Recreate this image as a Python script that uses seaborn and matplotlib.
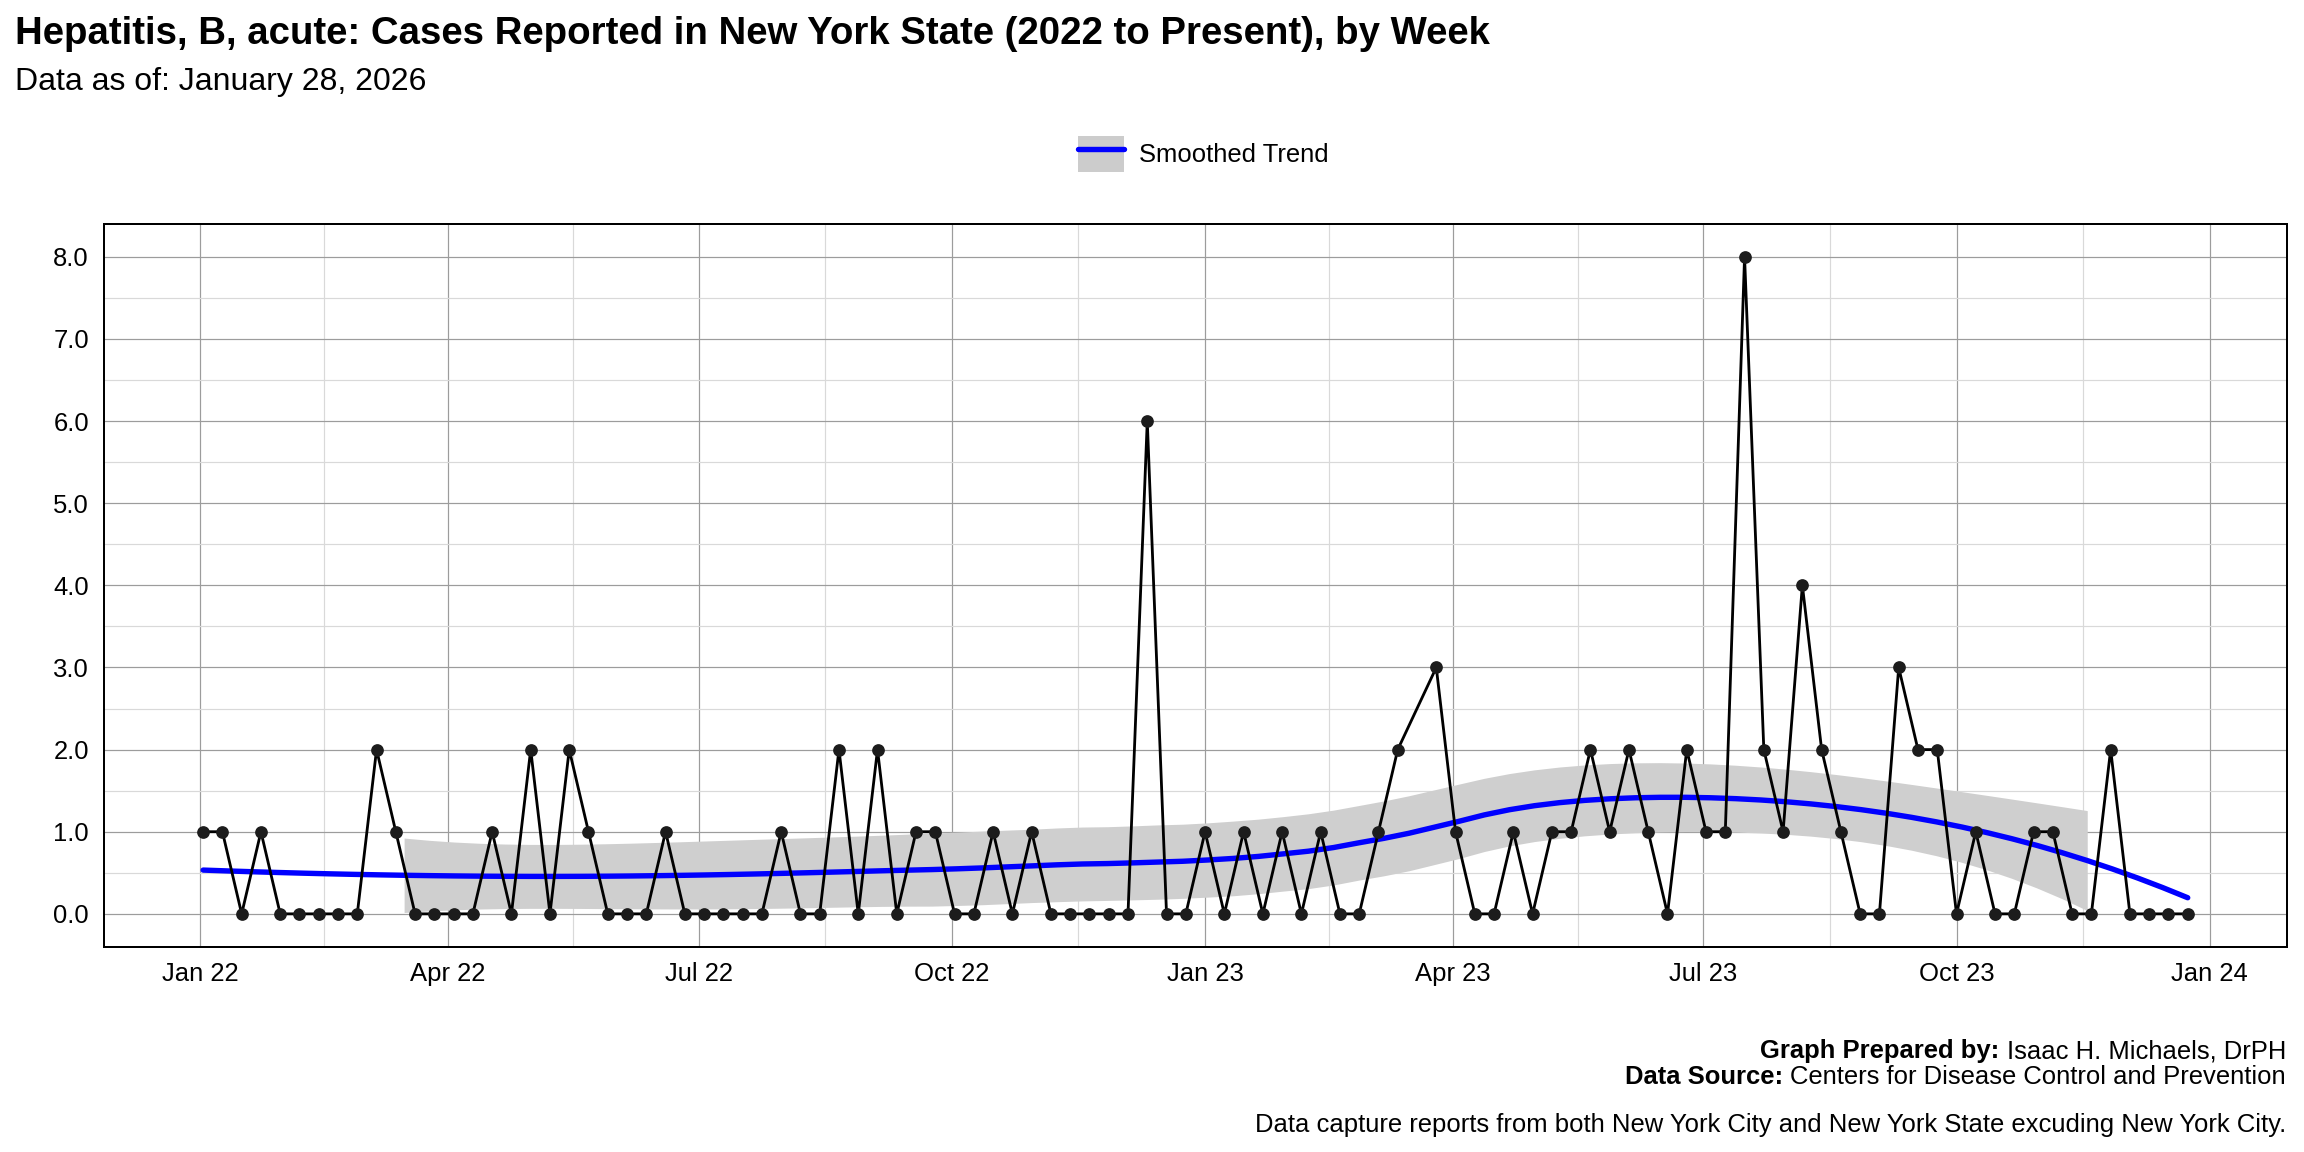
import numpy as np
import pandas as pd
import matplotlib
matplotlib.use("Agg")
import matplotlib.pyplot as plt
import matplotlib.dates as mdates
from matplotlib.patches import Patch
from matplotlib.lines import Line2D
import seaborn as sns

# weekly counts, first week starting 2022-01-02 (one week missing in March 2023)
first_week = "2022-01-02"
cases = [1, 1, 0, 1, 0, 0, 0, 0, 0, 2,
         1, 0, 0, 0, 0, 1, 0, 2, 0, 2,
         1, 0, 0, 0, 1, 0, 0, 0, 0, 0,
         1, 0, 0, 2, 0, 2, 0, 1, 1, 0,
         0, 1, 0, 1, 0, 0, 0, 0, 0, 6,
         0, 0, 1, 0, 1, 0, 1, 0, 1, 0,
         0, 1, 2, None, 3, 1, 0, 0, 1, 0,
         1, 1, 2, 1, 2, 1, 0, 2, 1, 1,
         8, 2, 1, 4, 2, 1, 0, 0, 3, 2,
         2, 0, 1, 0, 0, 1, 1, 0, 0, 2,
         0, 0, 0, 0]

title = "Hepatitis, B, acute: Cases Reported in New York State (2022 to Present), by Week"
subtitle = "Data as of: January 28, 2026"
caption_bold = ["Graph Prepared by: ", "Data Source: "]
caption_plain = ["Isaac H. Michaels, DrPH", "Centers for Disease Control and Prevention"]
caption_note = "Data capture reports from both New York City and New York State excuding New York City."

df = pd.DataFrame({"week": pd.date_range(first_week, periods=len(cases), freq="7D"),
                   "cases": cases}).dropna()
df["cases"] = df["cases"].astype(float)


# loess (span 0.75, degree 2) with 95% band, like geom_smooth
def loess(x, y, x_eval, span=0.75):
    n = len(x)
    q = int(np.floor(n * span))

    def rows(pts):
        L = np.zeros((len(pts), n))
        for i, x0 in enumerate(pts):
            d = np.abs(x - x0)
            h = np.sort(d)[q - 1]
            w = np.clip(1 - (d / h) ** 3, 0, None) ** 3
            X = np.vander(x - x0, 3, increasing=True)
            XtW = X.T * w
            L[i] = np.linalg.solve(XtW @ X, XtW)[0]
        return L

    Ld = rows(x)
    M = np.eye(n) - Ld
    M = M.T @ M
    d1 = np.trace(M)
    d2 = np.trace(M @ M)
    sigma = np.sqrt(np.sum((y - Ld @ y) ** 2) / d1)
    dof = d1 ** 2 / d2
    z = 1.959964
    t = z + (z ** 3 + z) / (4 * dof) + (5 * z ** 5 + 16 * z ** 3 + 3 * z) / (96 * dof ** 2)
    Le = rows(x_eval)
    fit = Le @ y
    se = sigma * np.sqrt(np.sum(Le ** 2, axis=1))
    return fit, fit - t * se, fit + t * se


x_num = mdates.date2num(df["week"])
x_grid = np.linspace(x_num.min(), x_num.max(), 80)
fit, lo, hi = loess(x_num, df["cases"].values, x_grid)
smooth = pd.DataFrame({"week": mdates.num2date(x_grid), "fit": fit, "lo": lo, "hi": hi})
smooth["week"] = smooth["week"].dt.tz_localize(None)

sns.set_style("white")
plt.rcParams["font.family"] = ["Liberation Sans", "DejaVu Sans"]
plt.rcParams["text.color"] = "black"

fig = plt.figure(figsize=(16, 8), dpi=144)
ax = fig.add_axes([0.0451, 0.1782, 0.9475, 0.6274])

# ribbon only where it stays inside the y limits
inside = (smooth["lo"] >= 0) & (smooth["hi"] <= 8)
ax.fill_between(smooth["week"], smooth["lo"], smooth["hi"], where=inside,
                color="#cfcfcf", lw=0, zorder=1)
sns.lineplot(data=smooth, x="week", y="fit", color="#0000ff", lw=2.7, ax=ax, zorder=2)
sns.lineplot(data=df, x="week", y="cases", color="black", lw=1.4, marker="o",
             markersize=5.6, markerfacecolor="#1c1c1c", markeredgecolor="#1c1c1c",
             ax=ax, zorder=3)

# axes
span = df["week"].max() - df["week"].min()
ax.set_xlim(df["week"].min() - span * 0.05, df["week"].max() + span * 0.05)
ax.set_ylim(-0.4, 8.4)
ax.set_xlabel("")
ax.set_ylabel("")

majors = pd.date_range("2022-01-01", "2024-01-01", freq="QS")
ax.set_xticks(majors)
ax.set_xticklabels([d.strftime("%b %y") for d in majors])
maj_num = mdates.date2num(majors)
ax.set_xticks((maj_num[:-1] + maj_num[1:]) / 2, minor=True)
ax.set_yticks(np.arange(0, 9, 1))
ax.set_yticklabels([f"{v:.1f}" for v in np.arange(0, 9, 1)])
ax.set_yticks(np.arange(0.5, 8, 1), minor=True)

ax.grid(which="major", color="#9c9c9c", lw=0.6)
ax.grid(which="minor", color="#d9d9d9", lw=0.6)
ax.set_axisbelow(True)
for s in ax.spines.values():
    s.set_color("black")
    s.set_linewidth(1.0)
ax.tick_params(which="major", length=4, width=0.9, color="black",
               labelsize=12.8, labelcolor="black", pad=3.5)
ax.tick_params(which="minor", length=0)

# legend
handles = [(Patch(facecolor="#cccccc", edgecolor="none"), Line2D([], [], color="#0000ff", lw=2.7))]
fig.legend(handles, ["Smoothed Trend"], loc="center", bbox_to_anchor=(1203.5 / 2304, 1 - 154 / 1152),
           frameon=False, fontsize=12.8, handlelength=1.8, handleheight=1.8,
           handletextpad=0.6, borderpad=0, borderaxespad=0)

# titles
fig.text(15 / 2304, 1 - 44 / 1152, title, fontsize=19.2, fontweight="bold", va="baseline")
fig.text(15 / 2304, 1 - 90 / 1152, subtitle, fontsize=16, va="baseline")

# caption: bold label + plain text, right aligned
x_right = 2286 / 2304
ys = [1 - 1058 / 1152, 1 - 1084.5 / 1152]
fig.canvas.draw()
r = fig.canvas.get_renderer()
for b, p, y in zip(caption_bold, caption_plain, ys):
    t = fig.text(x_right, y, p, fontsize=12.8, ha="right", va="baseline")
    bb = t.get_window_extent(renderer=r)
    fig.text(bb.x0 / fig.bbox.width, y, b, fontsize=12.8, fontweight="bold",
             ha="right", va="baseline")
fig.text(x_right, 1 - 1132 / 1152, caption_note, fontsize=12.8, ha="right", va="baseline")

fig.savefig("out.png", dpi=144)
